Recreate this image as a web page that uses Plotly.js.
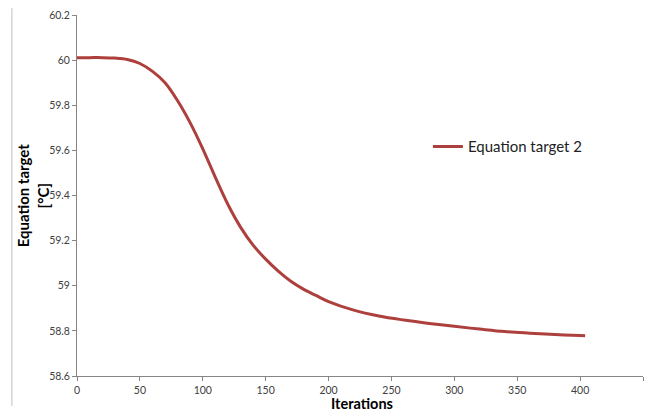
<!DOCTYPE html>
<html>
<head>
<meta charset="utf-8">
<script src="https://cdn.plot.ly/plotly-3.0.1.min.js"></script>
<style>html,body{margin:0;padding:0;background:#fff;}#chart{width:648px;height:411px;}</style>
</head>
<body>
<div id="chart"></div>
<script>
const iterations = [0,10,20,30,40,50,60,70,80,90,100,110,120,130,140,150,160,170,180,190,200,220,240,260,280,300,320,340,360,380,400,404];
const target2 = [60.011,60.011,60.011,60.009,60.003,59.985,59.950,59.900,59.820,59.722,59.607,59.480,59.360,59.260,59.180,59.118,59.065,59.020,58.985,58.957,58.930,58.892,58.866,58.848,58.833,58.820,58.808,58.797,58.790,58.784,58.779,58.778];
const seriesName = "Equation target 2";
const xTitle = "Iterations";
const yTitle = "Equation target<br>[°C]";

const FONT = "Lato, Open Sans, Liberation Sans, sans-serif";
const trace = {
  x: iterations, y: target2, name: seriesName, type: "scatter", mode: "lines",
  line: {color: "#AD403D", width: 3, shape: "spline"}
};
const axisCommon = {
  showgrid: false, zeroline: false, showline: true, linecolor: "#868686", linewidth: 1,
  ticks: "outside", ticklen: 4, tickcolor: "#868686",
  tickfont: {family: FONT, size: 10.5, color: "#404040"}
};
const layout = {
  width: 648, height: 411,
  margin: {l: 77, r: 5, t: 15, b: 35},
  paper_bgcolor: "#fff", plot_bgcolor: "#fff",
  showlegend: true,
  legend: {x: 0.62, y: 0.635, xanchor: "left", yanchor: "middle", bgcolor: "rgba(0,0,0,0)",
           font: {family: FONT, size: 15, color: "#222"}},
  xaxis: Object.assign({}, axisCommon, {range: [0, 450], dtick: 50, tick0: 0}),
  yaxis: Object.assign({}, axisCommon, {range: [58.6, 60.2], dtick: 0.2, tick0: 58.6}),
  annotations: [{
    text: "<b>" + yTitle + "</b>", xref: "paper", yref: "paper", x: -0.078, y: 0.5,
    xanchor: "center", yanchor: "middle", textangle: -90, showarrow: false,
    font: {family: FONT, size: 15, color: "#000"}
  }, {
    text: "<b>" + xTitle + "</b>", xref: "paper", yref: "paper", x: 0.504, y: -0.075,
    xanchor: "center", yanchor: "middle", showarrow: false,
    font: {family: FONT, size: 14.5, color: "#000"}
  }],
  shapes: [{type: "line", xref: "paper", yref: "paper", x0: -0.115, x1: -0.115, y0: -0.083, y1: 1.019,
            line: {color: "#bfbfbf", width: 1}}]
};
Plotly.newPlot("chart", [trace], layout, {displayModeBar: false, staticPlot: true});
</script>
</body>
</html>
